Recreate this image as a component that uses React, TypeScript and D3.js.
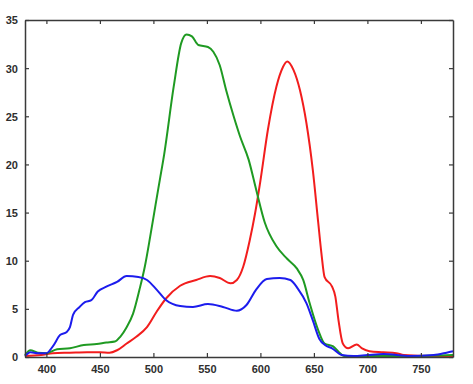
import React, { useEffect, useRef } from "react";
import * as d3 from "d3";

// wavelength (nm) / value pairs
const redX = [380, 395, 406, 422, 438, 450, 459, 466, 475, 484, 494, 503, 512, 525, 540, 553, 562, 572, 578, 584, 590, 595, 600, 607, 615, 621, 625, 631, 637, 643, 649, 654, 657, 660, 667, 670, 673, 677, 682, 690, 695, 702, 715, 727, 734, 760, 780];
const redY = [0.1, 0.2, 0.4, 0.45, 0.5, 0.5, 0.45, 0.7, 1.4, 2.1, 3.1, 4.7, 6.1, 7.4, 8.0, 8.4, 8.2, 7.65, 8.0, 9.4, 12.1, 14.9, 18.3, 23.6, 28.1, 30.1, 30.7, 29.8, 27.7, 24.3, 19.4, 14.0, 10.8, 8.3, 7.3, 6.3, 3.8, 1.4, 0.9, 1.3, 0.9, 0.6, 0.5, 0.4, 0.2, 0.1, 0.1];

const greenX = [380, 385, 392, 400, 410, 422, 435, 447, 456, 464, 469, 475, 481, 487, 492, 497, 502, 506, 510, 519, 526, 531, 536, 542, 551, 556, 562, 568, 575, 581, 589, 596, 604, 615, 625, 634, 640, 646, 654, 660, 668, 673, 678, 700, 740, 780];
const greenY = [0.2, 0.7, 0.45, 0.4, 0.8, 0.9, 1.25, 1.35, 1.5, 1.6, 2.1, 3.1, 4.5, 7.0, 9.4, 12.5, 15.8, 18.4, 21.0, 28.1, 32.6, 33.5, 33.3, 32.4, 32.2, 31.7, 30.3, 27.7, 25.0, 22.9, 20.5, 17.4, 14.0, 11.5, 10.2, 9.2, 8.0, 5.6, 2.8, 1.4, 1.1, 0.55, 0.1, 0.1, 0.1, 0.2];

const blueX = [380, 385, 392, 400, 406, 413, 419, 422, 425, 431, 436, 442, 448, 456, 466, 475, 486, 494, 503, 512, 525, 537, 551, 565, 578, 587, 596, 606, 618, 628, 635, 643, 649, 655, 661, 667, 676, 687, 700, 715, 740, 762, 774, 780];
const blueY = [0.1, 0.5, 0.4, 0.4, 1.1, 2.3, 2.6, 3.1, 4.4, 5.2, 5.7, 5.9, 6.8, 7.3, 7.8, 8.4, 8.3, 8.0, 7.0, 5.9, 5.3, 5.2, 5.5, 5.2, 4.8, 5.4, 7.0, 8.1, 8.2, 8.0, 7.1, 5.6, 3.8, 1.9, 1.2, 0.9, 0.2, 0.1, 0.2, 0.3, 0.1, 0.2, 0.45, 0.6];

const xTicks = [400, 450, 500, 550, 600, 650, 700, 750];
const yTicks = [0, 5, 10, 15, 20, 25, 30, 35];

const series = [
  { xs: redX, ys: redY, color: "#f21d1d" },
  { xs: greenX, ys: greenY, color: "#1f9a22" },
  { xs: blueX, ys: blueY, color: "#1c1ced" },
];

const App = () => {
  const ref = useRef<SVGSVGElement>(null);

  useEffect(() => {
    const width = 473, height = 384;
    const m = { left: 25, right: 20, top: 20, bottom: 27 };
    const svg = d3.select(ref.current).attr("width", width).attr("height", height);
    svg.selectAll("*").remove();

    const x = d3.scaleLinear().domain([380, 780]).range([m.left, width - m.right]);
    const y = d3.scaleLinear().domain([0, 35]).range([height - m.bottom, m.top]);

    const line = d3.line<[number, number]>()
      .x(d => x(d[0]))
      .y(d => y(d[1]))
      .curve(d3.curveMonotoneX);

    series.forEach(s => {
      const pts = s.xs.map((v, i) => [v, s.ys[i]] as [number, number]);
      svg.append("path")
        .attr("d", line(pts))
        .attr("fill", "none")
        .attr("stroke", s.color)
        .attr("stroke-width", 2)
        .attr("stroke-linejoin", "round");
    });

    const tk = 4;
    const axisColor = "#3a3a3a";
    const font = "'Liberation Sans', Arial, sans-serif";

    // bottom / top axes, ticks pointing inward
    const bottom = svg.append("g")
      .attr("transform", `translate(0,${height - m.bottom})`)
      .call(d3.axisBottom(x).tickValues(xTicks).tickSize(-tk).tickPadding(8).tickSizeOuter(0));
    svg.append("g")
      .attr("transform", `translate(0,${m.top})`)
      .call(d3.axisTop(x).tickValues(xTicks).tickSize(-tk).tickFormat(() => "").tickSizeOuter(0));

    const left = svg.append("g")
      .attr("transform", `translate(${m.left},0)`)
      .call(d3.axisLeft(y).tickValues(yTicks).tickSize(-tk).tickPadding(7).tickSizeOuter(0));
    svg.append("g")
      .attr("transform", `translate(${width - m.right},0)`)
      .call(d3.axisRight(y).tickValues(yTicks).tickSize(-tk).tickFormat(() => "").tickSizeOuter(0));

    svg.selectAll(".domain").attr("stroke", axisColor).attr("stroke-width", 1.5);
    svg.selectAll(".tick line").attr("stroke", axisColor).attr("stroke-width", 1.2);
    [bottom, left].forEach(g => g.selectAll("text")
      .attr("fill", "#2e2e2e")
      .attr("font-family", font)
      .attr("font-weight", "bold")
      .attr("font-size", 11));
    left.selectAll("text").attr("dy", "0.36em");
  }, []);

  return <svg ref={ref} style={{ position: "absolute", left: 0, top: 0 }} />;
};

export default App;
